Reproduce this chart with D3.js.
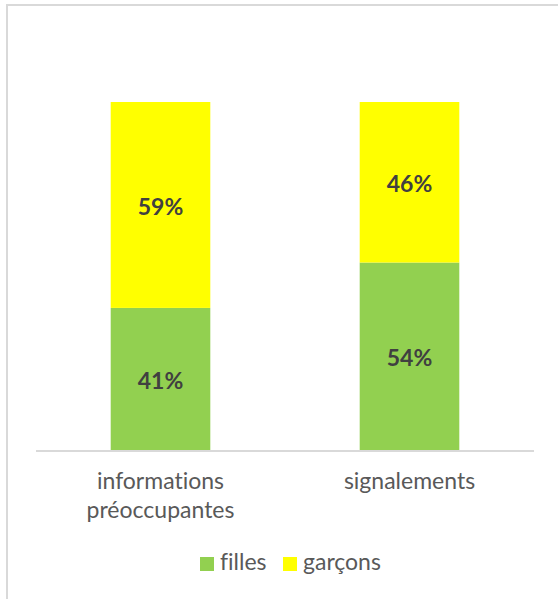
<!DOCTYPE html>
<html>
<head>
<meta charset="utf-8">
<script src="https://cdn.jsdelivr.net/npm/d3@7"></script>
<style>
  html, body { margin: 0; padding: 0; background: #fff; }
  svg { display: block; }
  text { font-variant-ligatures: none; font-feature-settings: "liga" 0; }
</style>
</head>
<body>
<svg id="chart" width="558" height="599"></svg>
<script>
// Répartition filles / garçons
const categories = [["informations", "préoccupantes"], ["signalements"]];
const series = ["filles", "garçons"];
const filles = [0.41, 0.54];
const garcons = [0.59, 0.46];
const colors = ["#92D050", "#FFFF00"];

const svg = d3.select("#chart");
const W = 558, H = 599;
const font = "Lato, 'Open Sans', sans-serif";

// chart frame (left and top edges visible)
svg.append("rect")
  .attr("x", 7).attr("y", 5)
  .attr("width", W + 10).attr("height", H + 10)
  .attr("fill", "#fff")
  .attr("stroke", "#D9D9D9").attr("stroke-width", 2);

const plot = { left: 36, right: 534, top: 102, bottom: 451 };

const x = d3.scaleBand()
  .domain(d3.range(categories.length))
  .range([plot.left, plot.right])
  .paddingInner(0.6).paddingOuter(0.3);

const y = d3.scaleLinear().domain([0, 1]).range([plot.bottom, plot.top]);

const rows = categories.map((c, i) => ({ i, filles: filles[i], "garçons": garcons[i] }));
const stacked = d3.stack().keys(series)(rows);

const g = svg.append("g");
stacked.forEach((layer, k) => {
  g.selectAll(null).data(layer).enter().append("rect")
    .attr("x", d => x(d.data.i))
    .attr("width", x.bandwidth())
    .attr("y", d => y(d[1]))
    .attr("height", d => y(d[0]) - y(d[1]))
    .attr("fill", colors[k]);

  g.selectAll(null).data(layer).enter().append("text")
    .attr("x", d => x(d.data.i) + x.bandwidth() / 2)
    .attr("y", d => (y(d[0]) + y(d[1])) / 2)
    .attr("dy", "0.42em")
    .attr("text-anchor", "middle")
    .attr("font-family", font)
    .attr("font-weight", "bold")
    .attr("font-size", 23)
    .attr("fill", "#404040")
    .text(d => Math.round((d[1] - d[0]) * 100) + "%");
});

// baseline
svg.append("line")
  .attr("x1", plot.left).attr("x2", plot.right)
  .attr("y1", plot.bottom).attr("y2", plot.bottom)
  .attr("stroke", "#D9D9D9").attr("stroke-width", 2);

// category labels
categories.forEach((lines, i) => {
  const t = svg.append("text")
    .attr("text-anchor", "middle")
    .attr("font-family", font)
    .attr("font-size", 23)
    .attr("fill", "#595959");
  lines.forEach((ln, j) => {
    t.append("tspan")
      .attr("x", x(i) + x.bandwidth() / 2)
      .attr("y", 489 + j * 29)
      .text(ln);
  });
});

// legend
const legend = svg.append("g");
const legendItems = [
  { label: series[0], color: colors[0], x: 200 },
  { label: series[1], color: colors[1], x: 283 }
];
legendItems.forEach(it => {
  legend.append("rect")
    .attr("x", it.x).attr("y", 557)
    .attr("width", 14).attr("height", 14)
    .attr("fill", it.color);
  legend.append("text")
    .attr("x", it.x + 20).attr("y", 570)
    .attr("font-family", font)
    .attr("font-size", 23)
    .attr("fill", "#595959")
    .text(it.label);
});
</script>
</body>
</html>
